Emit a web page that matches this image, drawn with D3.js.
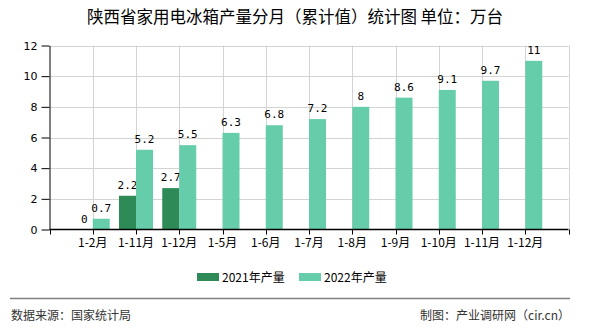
<!DOCTYPE html>
<html><head><meta charset="utf-8">
<script src="https://cdn.jsdelivr.net/npm/d3@7"></script>
<style>body{margin:0;background:#fff;}svg{display:block;}</style>
</head><body>
<svg id="c" width="590" height="330"></svg>
<script>
const categories = ["1-2月","1-11月","1-12月","1-5月","1-6月","1-7月","1-8月","1-9月","1-10月","1-11月","1-12月"];
const series2021 = [0, 2.2, 2.7, null, null, null, null, null, null, null, null];
const series2022 = [0.7, 5.2, 5.5, 6.3, 6.8, 7.2, 8, 8.6, 9.1, 9.7, 11];
const yTicks = [0, 2, 4, 6, 8, 10, 12];
const seriesNames = ["2021年产量", "2022年产量"];
const colors = ["#2e8b57", "#66cdaa"];
const title = "陕西省家用电冰箱产量分月（累计值）统计图 单位：万台";
const source = "数据来源：国家统计局";
const credit = "制图：产业调研网（cir.cn）";

(function draw() {
const svg = d3.select("#c");
const pLeft = 49.5, pRight = 568.5, pTop = 45.5, pBottom = 229.5;
const cjk = "'Noto Sans CJK SC', 'Microsoft YaHei', sans-serif";

const x = d3.scalePoint().domain(d3.range(categories.length)).range([pLeft, pRight]).padding(1);
const step = x.step();
const y = d3.scaleLinear().domain([0, 12]).range([pBottom, pTop]);
const barW = 17;

// grid
const grid = svg.append("g");
yTicks.forEach(t => {
  if (t === 0) return;
  grid.append("line").attr("x1", pLeft).attr("x2", pRight).attr("y1", Math.round(y(t)) + 0.5).attr("y2", Math.round(y(t)) + 0.5)
    .attr("stroke", "#d3d3d3").attr("stroke-width", 1);
});
const vlines = d3.range(categories.length + 2).map(k => pLeft + k * step);
vlines.forEach((vx, i) => {
  if (i === 0) return;
  grid.append("line").attr("x1", Math.round(vx) + 0.5).attr("x2", Math.round(vx) + 0.5).attr("y1", pTop).attr("y2", pBottom)
    .attr("stroke", "#d3d3d3").attr("stroke-width", 1);
});

// bars
const bars = svg.append("g");
[series2021, series2022].forEach((s, si) => {
  s.forEach((v, i) => {
    if (v === null) return;
    const cx = x(i);
    const bx = si === 0 ? cx - barW : cx;
    bars.append("rect").attr("x", bx).attr("y", y(v)).attr("width", barW).attr("height", y(0) - y(v))
      .attr("fill", colors[si]);
    bars.append("text").attr("x", bx + barW / 2).attr("y", y(v) - 7)
      .attr("text-anchor", "middle").attr("font-family", "'DejaVu Sans Mono', monospace").attr("font-size", 11)
      .attr("fill", "#000").text(v);
  });
});

// y axis
const yAxis = d3.axisLeft(y).tickValues(yTicks).tickSize(8).tickSizeOuter(0);
const ya = svg.append("g").attr("transform", `translate(${pLeft},0)`).call(yAxis);
ya.select(".domain").attr("stroke", "#000");
ya.selectAll(".tick line").attr("stroke", "#000");
ya.selectAll(".tick text").attr("font-family", "'DejaVu Sans', sans-serif").attr("font-size", 11).attr("fill", "#000").attr("dx", -1);

// x axis
const xa = svg.append("g").attr("transform", `translate(0,${pBottom})`);
xa.append("line").attr("x1", pLeft).attr("x2", pRight).attr("y1", 0).attr("y2", 0).attr("stroke", "#000").attr("stroke-width", 1.5);
vlines.forEach(vx => {
  xa.append("line").attr("x1", Math.round(vx) + 0.5).attr("x2", Math.round(vx) + 0.5).attr("y1", 0).attr("y2", 5).attr("stroke", "#000");
});
categories.forEach((c, i) => {
  xa.append("text").attr("x", x(i)).attr("y", 17).attr("text-anchor", "middle")
    .attr("font-family", cjk).attr("font-size", 12).attr("fill", "#000").text(c);
});

// title
svg.append("text").attr("x", 295).attr("y", 23).attr("text-anchor", "middle")
  .attr("font-family", cjk).attr("font-size", 16.5).attr("fill", "#000").text(title);

// legend
const lg = svg.append("g");
const lx = [197, 299];
seriesNames.forEach((n, i) => {
  lg.append("rect").attr("x", lx[i]).attr("y", 273).attr("width", 22).attr("height", 8).attr("fill", colors[i]);
  lg.append("text").attr("x", lx[i] + 25).attr("y", 281.5).attr("font-family", cjk).attr("font-size", 12).attr("fill", "#000").text(n);
});

// footer
svg.append("line").attr("x1", 10).attr("x2", 570).attr("y1", 298.5).attr("y2", 298.5).attr("stroke", "#808080").attr("stroke-width", 1.5);
svg.append("text").attr("x", 11).attr("y", 320).attr("font-family", cjk).attr("font-size", 12).attr("fill", "#333").text(source);
svg.append("text").attr("x", 570).attr("y", 320).attr("text-anchor", "end").attr("font-family", cjk).attr("font-size", 12).attr("fill", "#333").text(credit);
})();
</script>
</body></html>
